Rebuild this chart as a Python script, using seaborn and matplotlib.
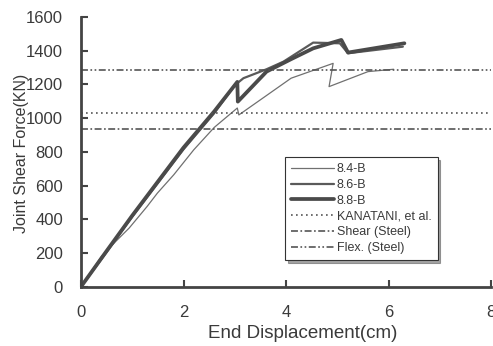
import matplotlib
matplotlib.use("Agg")
import matplotlib.pyplot as plt
import seaborn as sns
import pandas as pd

# ---- data ----
disp_84 = [0, 0.4, 0.58, 0.94, 1.29, 1.49, 1.81, 2.2, 2.6, 3.05, 3.08, 3.6, 4.1, 4.92, 4.84, 5.6, 6.1]
force_84 = [0, 180, 239, 348, 476, 555, 664, 812, 945, 1060, 1019, 1130, 1237, 1325, 1187, 1276, 1290]

disp_86 = [0, 0.5, 1.0, 2.0, 2.6, 3.0, 3.17, 3.62, 3.95, 4.53, 5.05, 5.21, 6.28]
force_86 = [0, 205, 415, 815, 1030, 1195, 1237, 1290, 1335, 1448, 1444, 1385, 1424]

disp_88 = [0, 0.5, 1.0, 2.0, 2.6, 3.05, 3.06, 3.62, 4.1, 4.53, 5.08, 5.21, 6.31]
force_88 = [0, 212, 422, 825, 1040, 1215, 1098, 1276, 1350, 1414, 1464, 1389, 1444]

kanatani = 1031
shear_steel = 936
flex_steel = 1286

x_ticks = [0, 2, 4, 6, 8]
y_ticks = [0, 200, 400, 600, 800, 1000, 1200, 1400, 1600]

sns.set_style("ticks")
plt.rcParams['font.family'] = ['Liberation Sans', 'DejaVu Sans']
plt.rcParams['lines.scale_dashes'] = False

fig = plt.figure(figsize=(4.93, 3.46), dpi=100)
ax = fig.add_axes([81 / 493, 1 - 286.7 / 346, 410 / 493, (286.7 - 17) / 346])

txt = '#3a3a3a'

sns.lineplot(x=disp_84, y=force_84, sort=False, estimator=None, ax=ax,
             color='#707070', lw=0.9, label='8.4-B')
sns.lineplot(x=disp_86, y=force_86, sort=False, estimator=None, ax=ax,
             color='#5a5a5a', lw=1.6, label='8.6-B')
sns.lineplot(x=disp_88, y=force_88, sort=False, estimator=None, ax=ax,
             color='#4a4a4a', lw=2.7, label='8.8-B')

ax.axhline(kanatani, color='#555555', lw=1.2, ls=(0, (1.2, 2.4)), label='KANATANI, et al.')
ax.axhline(shear_steel, color='#555555', lw=1.2, ls=(0, (5, 1.8, 1.2, 1.8)), label='Shear (Steel)')
ax.axhline(flex_steel, color='#555555', lw=1.2, ls=(0, (5, 1.8, 1.2, 1.8, 1.2, 1.8)), label='Flex. (Steel)')

ax.set_xlim(0, 8)
ax.set_ylim(0, 1600)
ax.set_xticks(x_ticks)
ax.set_yticks(y_ticks)
ax.tick_params(direction='in', length=5, width=1.5, color='#444444',
               labelsize=12, labelcolor=txt)
ax.tick_params(axis='y', pad=13)
ax.tick_params(axis='x', pad=13.5)
for s in ['top', 'right']:
    ax.spines[s].set_visible(False)
for s in ['left', 'bottom']:
    ax.spines[s].set_color('#444444')
    ax.spines[s].set_linewidth(2)

ax.set_xlabel('End Displacement(cm)', fontsize=13.5, color=txt)
ax.set_ylabel('Joint Shear Force(KN)', fontsize=11.5, color=txt)
ax.xaxis.set_label_coords(0.541, -0.142)
ax.yaxis.set_label_coords(-0.127, 0.495)

leg = ax.legend(loc='upper left', bbox_to_anchor=(0.497, 0.481), borderaxespad=0,
                fontsize=9, frameon=True, fancybox=False, shadow=True,
                handlelength=3.4, handletextpad=0.25, labelspacing=0.3,
                borderpad=0.5)
leg.get_frame().set_edgecolor('#333333')
leg.get_frame().set_linewidth(0.8)
for t in leg.get_texts():
    t.set_color(txt)

fig.savefig('out.png', dpi=100)
